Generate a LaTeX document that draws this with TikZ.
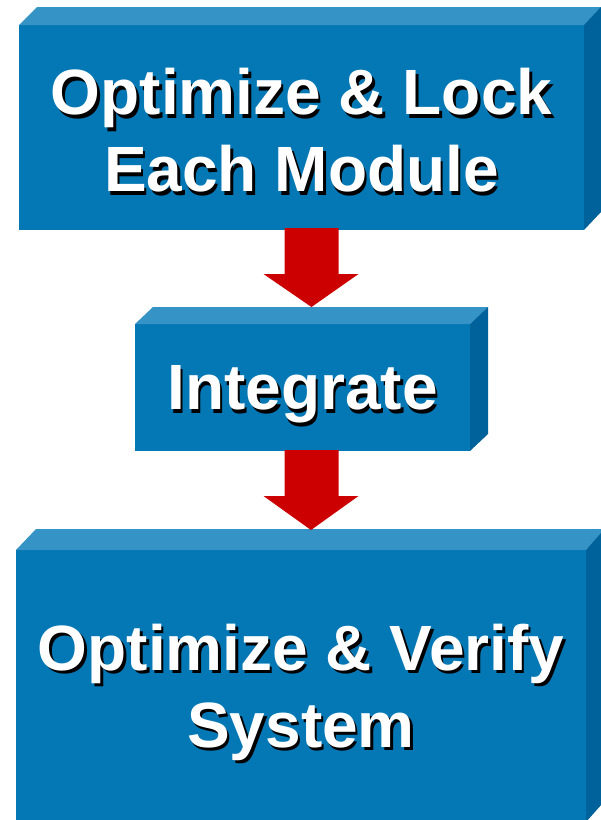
\documentclass[tikz,border=0pt]{standalone}
\usepackage{fontspec}
\setmainfont{Liberation Sans}
\usetikzlibrary{calc}
\definecolor{frontc}{HTML}{0477B5}
\definecolor{topc}{HTML}{3593C6}
\definecolor{sidec}{HTML}{00629A}
\definecolor{arrc}{HTML}{CC0000}
\tikzset{
  front/.style={fill=frontc, draw=none, inner sep=0pt, outer sep=0pt, rectangle},
  topface/.style={fill=topc, draw=none},
  sideface/.style={fill=sidec, draw=none},
  lbl/.style={text=white, font=\fontsize{64}{77}\selectfont\bfseries, align=center, inner sep=0pt},
  shd/.style={lbl, text=black},
  blockarrow/.style={fill=arrc, draw=none}
}
\begin{document}
\begin{tikzpicture}[x=1pt,y=-1pt]
\useasboundingbox (0,0) rectangle (601,820);
% box 1
\node[front, minimum width=565pt, minimum height=205pt] (f1) at (301.5,127.5) {};
\fill[topface] (f1.north west) -- ++(18,-18) -- ($(f1.north east)+(18,-18)$) -- (f1.north east) -- cycle;
\fill[sideface] (f1.north east) -- ++(17,-18) -- ($(f1.south east)+(17,-18)$) -- (f1.south east) -- cycle;
% box 2
\node[front, minimum width=335pt, minimum height=127pt] (f2) at (302.5,387.5) {};
\fill[topface] (f2.north west) -- ++(18,-17) -- ($(f2.north east)+(18,-17)$) -- (f2.north east) -- cycle;
\fill[sideface] (f2.north east) -- ++(18,-17) -- ($(f2.south east)+(18,-17)$) -- (f2.south east) -- cycle;
% box 3
\node[front, minimum width=570pt, minimum height=272pt] (f3) at (301,686) {};
\fill[topface] (f3.north west) -- ++(20,-21) -- ($(f3.north east)+(20,-21)$) -- (f3.north east) -- cycle;
\fill[sideface] (f3.north east) -- ++(16,-18) -- ($(f3.south east)+(16,-18)$) -- (f3.south east) -- cycle;
% arrows
\coordinate (a1) at ($(f1.south)+(10,-2)$);
\coordinate (a1t) at ($(f2.north)+(9,-17)$);
\fill[blockarrow] ($(a1)+(-27,0)$) -- ($(a1)+(27,0)$) -- ($(a1)+(27,46)$) -- ($(a1)+(47,46)$) -- (a1t) -- ($(a1)+(-48,46)$) -- ($(a1)+(-27,46)$) -- cycle;
\coordinate (a2) at ($(f2.south)+(9,-1)$);
\coordinate (a2t) at ($(f3.north)+(10,-20)$);
\fill[blockarrow] ($(a2)+(-27,0)$) -- ($(a2)+(27,0)$) -- ($(a2)+(27,46)$) -- ($(a2)+(47,46)$) -- (a2t) -- ($(a2)+(-48,46)$) -- ($(a2)+(-27,46)$) -- cycle;
% labels
\coordinate (c1) at ($(f1.center)+(0,3)$);
\coordinate (c2) at ($(f2.center)+(0,7)$);
\coordinate (c3) at ($(f3.center)+(0,6)$);
\node[shd] (s1) at ($(c1)+(2.5,3.5)$) {Optimize \& Lock\\Each Module};
\node[lbl] (t1) at (c1) {Optimize \& Lock\\Each Module};
\node[shd] (s2) at ($(c2)+(2.5,3.5)$) {Integrate};
\node[lbl] (t2) at (c2) {Integrate};
\node[shd] (s3) at ($(c3)+(2.5,3.5)$) {Optimize \& Verify\\System};
\node[lbl] (t3) at (c3) {Optimize \& Verify\\System};
\end{tikzpicture}
\end{document}
